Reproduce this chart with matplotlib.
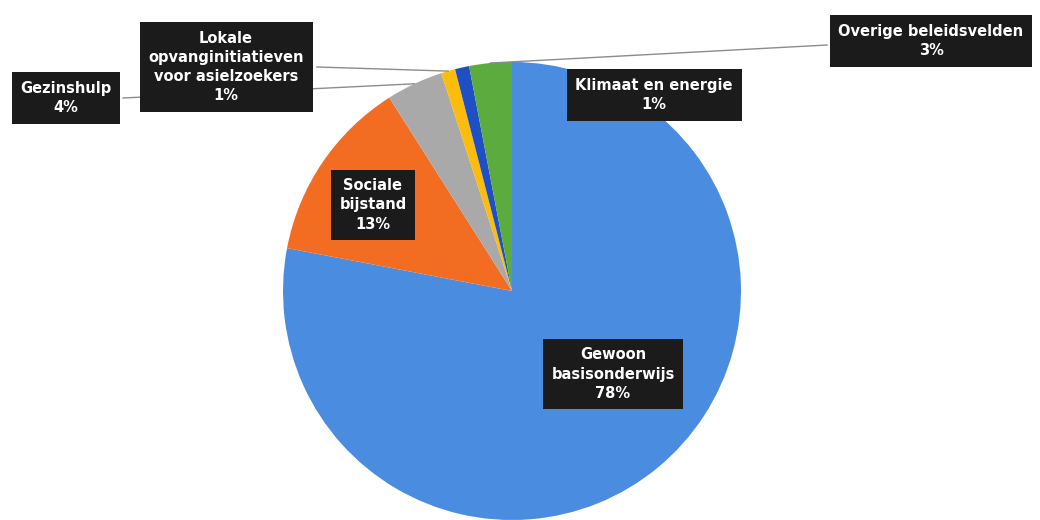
import numpy as np
import matplotlib.pyplot as plt

categories = ["Gewoon\nbasisonderwijs", "Sociale\nbijstand", "Gezinshulp",
              "Lokale\nopvanginitiatieven\nvoor asielzoekers", "Klimaat en energie",
              "Overige beleidsvelden"]
shares = [78, 13, 4, 1, 1, 3]
colors = ["#4a8de0", "#f26c22", "#a9a9a9", "#fbbc0c", "#1f4fc4", "#5cab3e"]

# label box centres in pixel space (x, y from top); None = no leader line
label_pos = [(613, 374), (373, 205), (66, 98), (226, 67), (654, 95), (931, 41)]
leader_from = [None, None, (123, 98), (317, 67), None, (827, 45)]

W, H = 1040, 520
cx, cy, r = 512, 291, 229

fig = plt.figure(figsize=(10.4, 5.2), dpi=100)
ax = fig.add_axes([0, 0, 1, 1])

wedges, _ = ax.pie(shares, colors=colors, startangle=90, counterclock=False,
                   center=(cx, H - cy), radius=r, frame=True,
                   wedgeprops=dict(linewidth=0))
ax.set_xlim(0, W)
ax.set_ylim(0, H)
ax.set_aspect("equal")
ax.axis("off")

for w, lab, s, pos, src in zip(wedges, categories, shares, label_pos, leader_from):
    if src is not None:
        mid = np.deg2rad((w.theta1 + w.theta2) / 2)
        ex = cx + r * np.cos(mid)
        ey = (H - cy) + r * np.sin(mid)
        ax.plot([src[0], ex], [H - src[1], ey], color="#8c8c8c", lw=1, zorder=1)
    ax.text(pos[0], H - pos[1], f"{lab}\n{s}%", ha="center", va="center",
            color="white", fontsize=10.5, fontweight="bold", linespacing=1.35,
            family=["DejaVu Sans"], zorder=5,
            bbox=dict(boxstyle="square,pad=0.6", fc="#1b1b1b", ec="none"))

fig.savefig("out.png", dpi=100, facecolor="white")
